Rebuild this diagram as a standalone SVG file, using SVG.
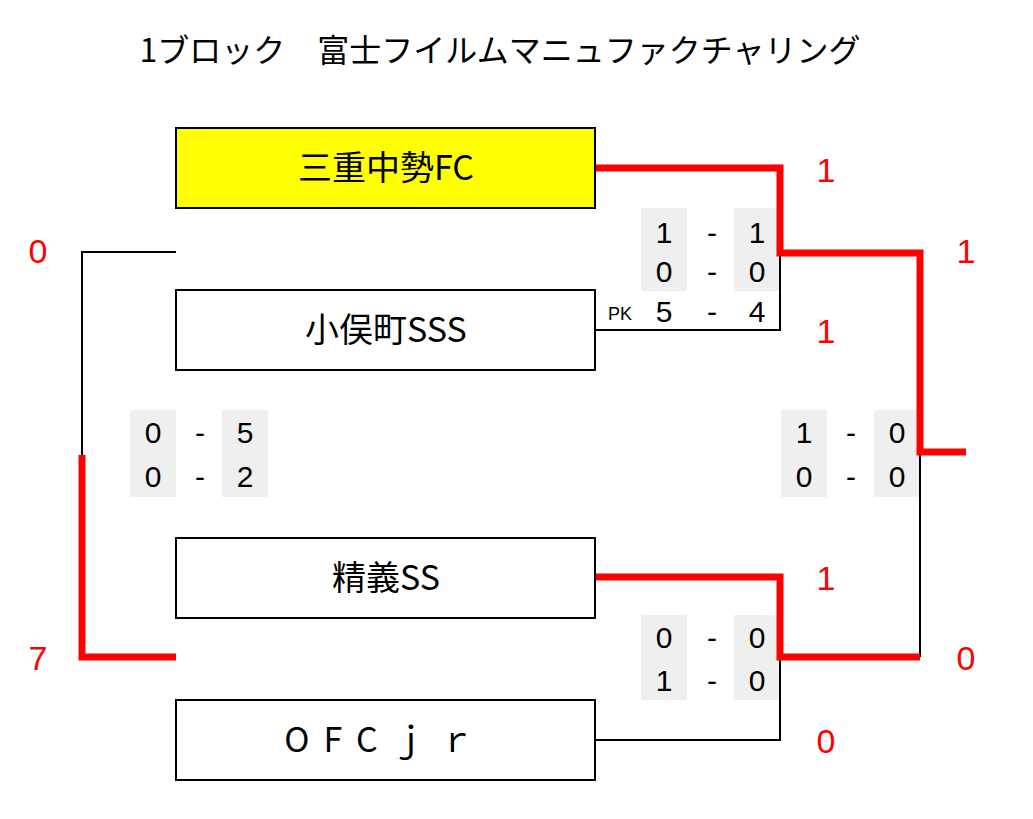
<svg xmlns="http://www.w3.org/2000/svg" width="1033" height="819" viewBox="0 0 1033 819">
<style>
.n{fill:#fff;stroke:#000;stroke-width:2}
.t{font-family:"Noto Sans CJK JP","Liberation Sans",sans-serif;font-size:34px;text-anchor:middle}
.g{fill:#efefef}
.s{font-family:"Liberation Sans",sans-serif;font-size:30px;text-anchor:middle;fill:#000}
.r{font-family:"Liberation Sans",sans-serif;font-size:34px;text-anchor:middle;fill:#f00}
.k{fill:none;stroke:#000;stroke-width:2}
.red{fill:none;stroke:#f00;stroke-width:7}
</style>
<rect width="1033" height="819" fill="#fff"/>
<text x="500" y="62" font-family="Noto Sans CJK JP,sans-serif" font-size="32" text-anchor="middle">1ブロック　富士フイルムマニュファクチャリング</text>
<g id="scores">
<rect class="g" x="641" y="208" width="46" height="83"/><rect class="g" x="734" y="208" width="46" height="83"/>
<rect class="g" x="781" y="410" width="46" height="87"/><rect class="g" x="874" y="410" width="46" height="87"/>
<rect class="g" x="130" y="410" width="46" height="87"/><rect class="g" x="222" y="410" width="46" height="87"/>
<rect class="g" x="641" y="615" width="46" height="85"/><rect class="g" x="734" y="615" width="46" height="85"/>
<g class="s">
<text x="664" y="243">1</text><text x="712" y="243">-</text><text x="757" y="243">1</text>
<text x="664" y="282">0</text><text x="712" y="282">-</text><text x="757" y="282">0</text>
<text x="664" y="322">5</text><text x="712" y="322">-</text><text x="757" y="322">4</text>
<text x="804" y="443">1</text><text x="851" y="443">-</text><text x="897" y="443">0</text>
<text x="804" y="487">0</text><text x="851" y="487">-</text><text x="897" y="487">0</text>
<text x="153" y="443">0</text><text x="200" y="443">-</text><text x="245" y="443">5</text>
<text x="153" y="487">0</text><text x="200" y="487">-</text><text x="245" y="487">2</text>
<text x="664" y="648">0</text><text x="712" y="648">-</text><text x="757" y="648">0</text>
<text x="664" y="691">1</text><text x="712" y="691">-</text><text x="757" y="691">0</text>
</g>
<text x="620" y="320" font-family="Liberation Sans,sans-serif" font-size="18" text-anchor="middle">PK</text>
<g class="r">
<text x="826" y="182">1</text><text x="966" y="263">1</text><text x="826" y="343">1</text>
<text x="38" y="263">0</text><text x="38" y="670">7</text>
<text x="826" y="590">1</text><text x="966" y="670">0</text><text x="826" y="753">0</text>
</g>
</g>
<g id="connectors">
<path class="k" d="M595 330H780V253"/>
<path class="k" d="M176 252H82V455"/>
<path class="k" d="M920 452V657"/>
<path class="k" d="M595 740H780V657"/>
<path class="red" d="M595 168H780V253H920V452H966"/>
<path class="red" d="M82 455V657H176"/>
<path class="red" d="M595 577H780V657H920"/>
</g>
<g id="n1"><rect class="n" x="176" y="128" width="419" height="80" fill="#ffff00" style="fill:#ffff00"/><text class="t" x="386" y="180">三重中勢FC</text></g>
<g id="n2"><rect class="n" x="176" y="290" width="419" height="80"/><text class="t" x="386" y="342">小俣町SSS</text></g>
<g id="n3"><rect class="n" x="176" y="538" width="419" height="80"/><text class="t" x="386" y="590">精義SS</text></g>
<g id="n4"><rect class="n" x="176" y="700" width="419" height="80"/><text class="t" x="386" y="752" letter-spacing="14">OFCｊｒ</text></g>
</svg>
